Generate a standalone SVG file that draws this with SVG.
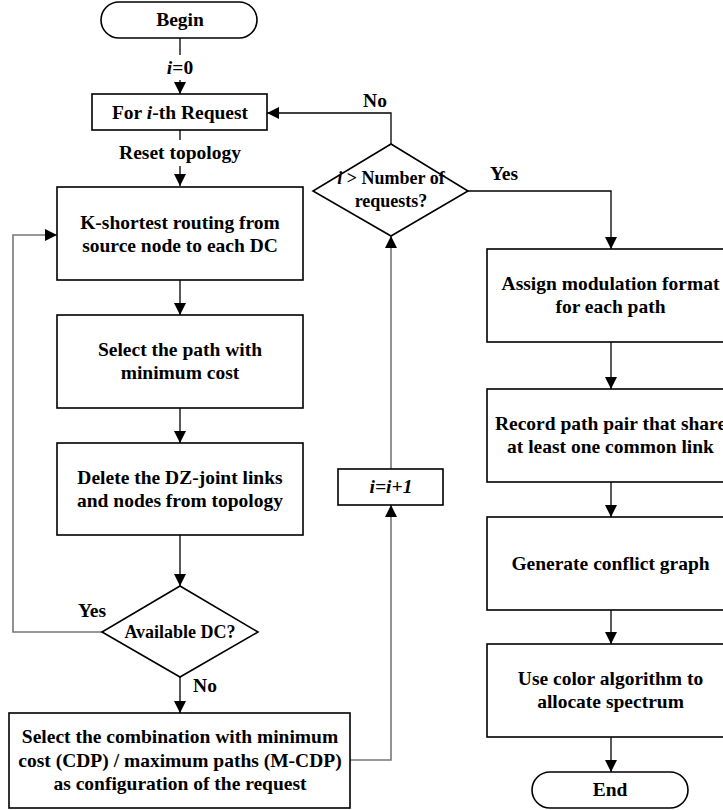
<svg xmlns="http://www.w3.org/2000/svg" width="723" height="810" viewBox="0 0 723 810">
<style>
.box{fill:#fff;stroke:#000;stroke-width:1.6}
.t{font-family:"Liberation Serif","Times New Roman",serif;font-weight:bold;font-size:19.5px;fill:#000;text-anchor:middle}
.s{font-size:18px}
.c{fill:none;stroke:#000;stroke-width:1.3}
.g{fill:none;stroke:#777;stroke-width:1.6}
.it{font-style:italic}
</style>
<defs>
<marker id="ah" markerUnits="userSpaceOnUse" markerWidth="12" markerHeight="12" refX="12" refY="6" orient="auto">
<path d="M0,0 L12,6 L0,12 z" fill="#000"/>
</marker>
</defs>
<g id="connectors">
<path class="c" d="M180 38 V55 M180 80 V94" marker-end="url(#ah)"/>
<path class="c" d="M180 130 V140 M180 166 V186" marker-end="url(#ah)"/>
<path class="c" d="M180 280 V315" marker-end="url(#ah)"/>
<path class="c" d="M180 408 V443" marker-end="url(#ah)"/>
<path class="c" d="M180 535 V586" marker-end="url(#ah)"/>
<path class="g" d="M102 632 H13 V235 H57" marker-end="url(#ah)"/>
<path class="c" d="M180 677 V713" marker-end="url(#ah)"/>
<path class="g" d="M350 760 H391 V505" marker-end="url(#ah)"/>
<path class="g" d="M391 469 V236" marker-end="url(#ah)"/>
<path class="c" d="M391 144 V113 H267" marker-end="url(#ah)"/>
<path class="c" d="M468 191 H611 V249" marker-end="url(#ah)"/>
<path class="c" d="M611 342 V389" marker-end="url(#ah)"/>
<path class="c" d="M611 482 V517" marker-end="url(#ah)"/>
<path class="c" d="M611 610 V644" marker-end="url(#ah)"/>
<path class="c" d="M611 737 V772" marker-end="url(#ah)"/>
<text class="t" x="180" y="74"><tspan class="it">i</tspan>=0</text>
<text class="t" x="180" y="159">Reset topology</text>
<text class="t" x="92" y="617">Yes</text>
<text class="t" x="205" y="692">No</text>
<text class="t" x="375" y="107">No</text>
<text class="t" x="504" y="180">Yes</text>
</g>
<g id="begin">
<rect class="box" x="101" y="2" width="156" height="36" rx="18"/>
<text class="t" x="180" y="26">Begin</text>
</g>
<g id="request">
<rect class="box" x="92" y="94" width="175" height="36"/>
<text class="t" x="180" y="119">For <tspan class="it">i</tspan>-th Request</text>
</g>
<g id="kshortest">
<rect class="box" x="57" y="187" width="246" height="93"/>
<text class="t" x="180" y="229">K-shortest routing from</text>
<text class="t" x="180" y="252">source node to each DC</text>
</g>
<g id="selectpath">
<rect class="box" x="57" y="315" width="246" height="93"/>
<text class="t" x="180" y="356">Select the path with</text>
<text class="t" x="180" y="379">minimum cost</text>
</g>
<g id="delete">
<rect class="box" x="57" y="443" width="246" height="92"/>
<text class="t" x="180" y="484">Delete the DZ-joint links</text>
<text class="t" x="180" y="507">and nodes from topology</text>
</g>
<g id="available">
<polygon class="box" points="180,586 258,632 180,677 102,632"/>
<text class="t s" x="180" y="638">Available DC?</text>
</g>
<g id="combination">
<rect class="box" x="9" y="713" width="341" height="95"/>
<text class="t" x="180" y="743">Select the combination with minimum</text>
<text class="t" x="180" y="766.5">cost (CDP) / maximum paths (M-CDP)</text>
<text class="t" x="180" y="790">as configuration of the request</text>
</g>
<g id="increment">
<rect class="box" x="338" y="469" width="105" height="36"/>
<text class="t it" x="391" y="493">i=i+1</text>
</g>
<g id="number">
<polygon class="box" points="391,144 468,191 391,236 313,191"/>
<text class="t s" x="391" y="184"><tspan class="it">i</tspan> &gt; Number of</text>
<text class="t s" x="391" y="207">requests?</text>
</g>
<g id="assign">
<rect class="box" x="487" y="249" width="247" height="93"/>
<text class="t" x="610.5" y="290">Assign modulation format</text>
<text class="t" x="610.5" y="313">for each path</text>
</g>
<g id="record">
<rect class="box" x="487" y="389" width="247" height="93"/>
<text class="t" x="610.5" y="430">Record path pair that share</text>
<text class="t" x="610.5" y="453">at least one common link</text>
</g>
<g id="generate">
<rect class="box" x="487" y="517" width="247" height="93"/>
<text class="t" x="610.5" y="569.5">Generate conflict graph</text>
</g>
<g id="color">
<rect class="box" x="487" y="644" width="247" height="93"/>
<text class="t" x="610.5" y="685">Use color algorithm to</text>
<text class="t" x="610.5" y="708">allocate spectrum</text>
</g>
<g id="end">
<rect class="box" x="532" y="772" width="156" height="36" rx="18"/>
<text class="t" x="610" y="796">End</text>
</g>
</svg>
